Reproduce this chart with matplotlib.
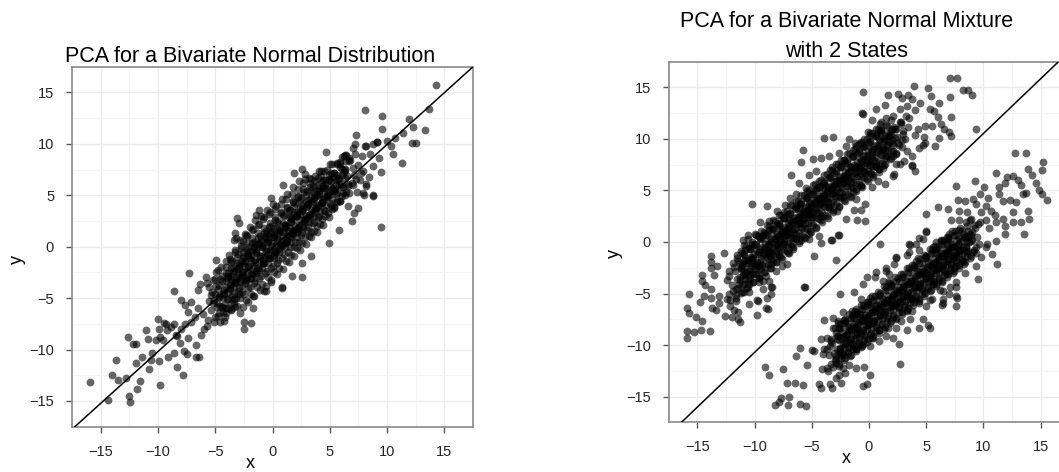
import matplotlib.pyplot as plt
import matplotlib as mpl
from matplotlib.ticker import MultipleLocator

mpl.rcParams['font.family'] = ['Liberation Sans', 'DejaVu Sans']

# ---- single bivariate normal: sparse tails and dense core (x, y) ----
left_tail = [
    (-15.9, -13.2), (-14.4, -14.9), (-14.0, -12.5), (-13.5, -13.0), (-13.7, -11.0), (-12.8, -12.8),
    (-12.5, -14.5), (-12.4, -15.1), (-11.8, -13.8), (-11.6, -13.1), (-12.6, -8.8), (-12.2, -9.5),
    (-11.9, -9.5), (-11.9, -11.3), (-11.4, -10.7), (-11.0, -8.1), (-10.9, -9.0), (-10.8, -11.9),
    (-10.5, -10.3), (-10.6, -11.0), (-10.2, -9.1), (-9.8, -13.4), (-9.9, -11.1), (-10.0, -7.0),
    (-9.9, -8.0), (-9.5, -7.4), (-9.6, -9.1), (-9.1, -10.7), (-8.6, -10.3), (-8.3, -11.7),
    (-8.4, -8.6), (-8.6, -4.3), (-8.1, -9.4), (-8.0, -5.2), (-7.8, -12.5), (-7.7, -10.1),
    (-7.5, -10.4), (-7.4, -6.3), (-7.3, -2.6), (-7.6, -7.5), (-6.7, -9.6), (-6.7, -10.7),
    (-6.4, -10.7), (-7.6, -5.7), (-7.1, -5.4), (-6.5, -4.2), (-6.3, -3.6), (-5.8, -2.9),
    (-6.0, -8.0), (-6.2, -8.6), (-5.7, -7.7), (-7.1, -7.3), (-6.8, -6.8), (-6.5, -6.0),
    (-6.1, -6.5), (-8.0, -8.0), (-8.6, -7.5), (-9.3, -7.5), (-7.4, -8.9), (-8.3, -8.7),
    (-9.8, -8.8), (-9.2, -8.1), (-8.9, -7.8), (-5.1, -7.3), (-4.8, -6.7), (-4.2, -7.2),
    (-5.1, -5.2), (-5.4, -4.7), (-5.5, -3.9), (-5.2, -3.2), (-4.8, -2.3), (-4.9, -1.3),
    (-4.4, -5.9), (-3.6, -6.2), (-3.3, -5.9), (-2.8, -6.4), (-2.5, -7.3), (-2.5, -8.0),
    (-1.9, -7.4), (-1.7, -6.0), (-1.7, -4.8), (-0.7, -4.3), (0.8, -4.0), (1.7, -2.8),
    (2.6, -2.9), (2.6, -1.6), (3.4, -0.9), (4.9, 0.4), (5.8, 1.6), (9.5, 1.9),
    (4.7, 9.2), (1.9, 7.2), (2.6, 7.6), (0.9, 6.0), (-0.1, 4.7), (-1.2, 3.6),
    (-1.4, 3.1), (-3.1, 2.8), (-2.9, 2.3), (-3.3, 1.3), (-3.4, 0.7), (0.8, -3.9),
    (-0.6, -4.3), (-0.1, -3.4), (6.9, 2.5), (7.5, 3.8), (8.8, 5.0), (8.0, 5.0),
    (8.2, 5.9), (7.1, 3.3), (6.6, 4.0), (5.9, 8.2), (5.2, 8.0), (7.2, 10.0),
    (8.2, 9.8), (9.1, 10.2), (6.3, 8.9), (4.1, 7.4), (3.4, 6.6), (2.8, 6.6),
    (4.3, 6.3), (5.3, 6.8), (6.6, 6.1), (7.3, 6.6), (7.7, 7.2), (14.3, 15.7),
    (8.1, 13.3), (9.6, 12.7), (11.9, 12.4), (13.7, 13.4), (9.6, 11.4), (12.3, 11.6),
    (13.3, 11.3), (11.4, 11.1), (12.2, 10.1), (12.5, 10.1), (7.3, 10.9), (10.7, 10.6),
    (10.0, 10.3), (10.3, 9.8), (10.5, 9.0), (11.3, 8.1), (9.5, 7.3), (8.8, 10.0),
    (9.1, 10.2), (8.1, 9.8), (7.0, 9.6), (8.5, 9.0), (7.8, 8.8), (9.3, 8.6),
    (8.8, 7.8), (8.4, 6.8), (8.8, 4.9), (6.2, 8.8), (6.7, 8.6), (5.6, 8.1),
    (6.3, 7.6), (7.5, 7.9), (7.9, 7.4), (7.6, 6.5), (8.2, 6.1), (7.0, 6.0),
    (7.9, 5.2), (6.7, 5.2), (7.4, 5.3),
]

left_core = [
    (-5.6, -7.1), (-5.35, -6.2), (-5.5, -5.3), (-5.25, -4.4), (-5.75, -3.5),
    (-5.0, -6.8), (-4.85, -5.9), (-5.2, -5.5), (-5.05, -4.6), (-4.75, -4.15), (-5.0, -3.1), (-4.9, -2.5),
    (-4.6, -7.3), (-4.35, -6.3), (-4.55, -5.75), (-4.7, -4.9), (-4.3, -4.5), (-4.65, -3.7), (-4.4, -2.85), (-4.5, -1.95), (-4.15, -6.85),
    (-4.1, -6.45), (-3.85, -5.95), (-4.0, -5.1), (-4.25, -4.55), (-3.75, -4.05), (-4.1, -3.35), (-3.9, -2.55), (-4.05, -1.4), (-3.8, -0.85), (-4.2, -5.7),
    (-3.6, -6.05), (-3.35, -5.45), (-3.5, -4.75), (-3.75, -4.15), (-3.3, -3.4), (-3.6, -2.85), (-3.45, -2.05), (-3.5, -1.35), (-3.3, -0.35), (-3.65, -3.15), (-3.4, -5.05),
    (-3.1, -5.75), (-2.85, -4.95), (-3.05, -4.3), (-3.25, -3.55), (-2.8, -3.05), (-3.1, -2.2), (-2.9, -1.65), (-3.0, -0.75), (-2.75, 0.1), (-3.2, 0.85), (-3.0, -2.65), (-2.95, -4.6),
    (-2.6, -5.9), (-2.35, -5.15), (-2.5, -4.55), (-2.7, -3.75), (-2.3, -3.25), (-2.65, -2.45), (-2.4, -1.85), (-2.5, -0.95), (-2.25, -0.3), (-2.6, 0.55), (-2.4, 1.25), (-2.45, -2.95), (-2.7, -1.35),
    (-2.1, -5.35), (-1.9, -4.55), (-2.0, -3.95), (-2.2, -3.25), (-1.8, -2.65), (-2.15, -1.85), (-1.9, -1.25), (-2.0, -0.45), (-1.75, 0.35), (-2.2, 1.05), (-2.0, 1.95), (-1.85, -3.0), (-2.1, -0.9),
    (-1.6, -4.75), (-1.35, -3.95), (-1.5, -3.35), (-1.7, -2.65), (-1.3, -2.05), (-1.6, -1.25), (-1.4, -0.65), (-1.55, 0.25), (-1.25, 0.85), (-1.7, 1.75), (-1.5, 2.55), (-1.4, -2.35), (-1.65, -0.05),
    (-1.1, -4.25), (-0.9, -3.65), (-1.0, -2.85), (-1.2, -2.25), (-0.8, -1.55), (-1.1, -0.95), (-0.9, -0.05), (-1.0, 0.65), (-0.75, 1.35), (-1.2, 2.25), (-1.0, 2.95), (-0.85, -1.2), (-1.15, 0.3),
    (-0.6, -3.85), (-0.4, -2.95), (-0.5, -2.35), (-0.7, -1.55), (-0.3, -1.05), (-0.6, -0.25), (-0.35, 0.45), (-0.5, 1.25), (-0.3, 1.95), (-0.7, 2.85), (-0.5, 3.55), (-0.4, -0.7), (-0.65, 0.95),
    (-0.1, -3.25), (0.15, -2.45), (0.0, -1.85), (-0.2, -1.05), (0.2, -0.45), (-0.1, 0.35), (0.1, 0.95), (0.0, 1.85), (0.25, 2.55), (-0.2, 3.35), (0.05, 4.15), (0.1, -0.8), (-0.15, 1.4),
    (0.4, -2.65), (0.6, -2.05), (0.5, -1.25), (0.3, -0.65), (0.7, 0.15), (0.4, 0.75), (0.65, 1.65), (0.5, 2.35), (0.75, 3.25), (0.3, 3.95), (0.6, -0.2), (0.4, 1.2),
    (0.9, -2.15), (1.15, -1.35), (1.0, -0.75), (0.8, 0.05), (1.2, 0.65), (0.9, 1.45), (1.1, 2.15), (1.0, 3.05), (1.25, 3.75), (0.8, 4.6), (1.05, 0.4), (1.1, 1.8),
    (1.4, -1.45), (1.6, -0.85), (1.5, -0.05), (1.3, 0.55), (1.7, 1.35), (1.4, 1.95), (1.65, 2.85), (1.5, 3.55), (1.75, 4.45), (1.3, 5.15), (1.55, 1.0), (1.6, 2.4),
    (1.9, -0.95), (2.15, -0.15), (2.0, 0.45), (1.8, 1.25), (2.2, 1.85), (1.9, 2.65), (2.1, 3.35), (2.0, 4.25), (2.25, 4.95), (1.8, 5.85), (2.0, 1.6), (2.1, 3.0),
    (2.4, -0.35), (2.6, 0.35), (2.5, 1.15), (2.3, 1.75), (2.75, 2.55), (2.4, 3.15), (2.6, 4.05), (2.5, 4.75), (2.7, 5.65), (2.3, 6.35), (2.55, 2.1), (2.6, 3.6),
    (2.9, 0.25), (3.15, 1.05), (3.0, 1.65), (2.8, 2.45), (3.2, 3.05), (2.9, 3.85), (3.1, 4.55), (3.0, 5.45), (3.25, 6.15), (2.8, 7.05), (3.0, 2.8), (3.1, 4.2),
    (3.4, 0.95), (3.6, 1.55), (3.5, 2.35), (3.3, 2.95), (3.7, 3.75), (3.4, 4.35), (3.65, 5.25), (3.5, 5.95), (3.75, 6.85), (3.5, 3.4), (3.6, 4.8),
    (3.9, 1.45), (4.15, 2.25), (4.0, 2.85), (3.8, 3.65), (4.2, 4.25), (3.9, 5.05), (4.1, 5.75), (4.0, 6.65), (4.25, 7.35), (4.0, 4.0), (4.1, 5.4),
    (4.4, 2.15), (4.6, 2.95), (4.5, 3.55), (4.3, 4.35), (4.75, 4.95), (4.4, 5.75), (4.6, 6.45), (4.5, 7.35), (4.5, 4.7), (4.6, 6.1),
    (4.9, 2.85), (5.15, 3.65), (5.0, 4.25), (4.8, 5.05), (5.2, 5.65), (4.9, 6.45), (5.1, 7.15), (5.0, 8.05), (5.0, 5.4),
    (5.4, 3.75), (5.6, 4.35), (5.5, 5.15), (5.3, 5.75), (5.7, 6.55), (5.4, 7.15), (5.6, 8.05), (5.5, 6.0),
    (5.9, 4.45), (6.15, 5.25), (6.0, 5.85), (5.8, 6.65), (6.2, 7.25), (5.9, 8.05), (6.1, 8.75),
    (6.4, 5.35), (6.6, 5.95), (6.5, 6.85), (6.3, 7.45), (6.7, 8.35), (6.4, 8.95),
    (6.9, 6.15), (7.1, 6.95), (7.0, 7.65), (6.8, 8.45), (7.2, 9.05),
]

# inner part of the core, where the cloud is densest
left_core_inner = [
    (-4.65, -6.4), (-4.85, -5.45), (-4.7, -4.75), (-4.9, -3.85), (-4.6, -3.15),
    (-4.15, -5.95), (-4.35, -4.95), (-4.2, -4.25), (-4.4, -3.35), (-4.1, -2.55),
    (-3.65, -5.45), (-3.85, -4.45), (-3.7, -3.75), (-3.9, -2.85), (-3.6, -2.05), (-3.75, -1.15),
    (-3.15, -4.95), (-3.35, -3.95), (-3.2, -3.25), (-3.4, -2.35), (-3.1, -1.55), (-3.25, -0.55),
    (-2.65, -4.45), (-2.85, -3.45), (-2.7, -2.75), (-2.9, -1.85), (-2.6, -1.05), (-2.75, -0.15), (-2.8, 0.65),
    (-2.15, -4.05), (-2.35, -3.05), (-2.2, -2.35), (-2.4, -1.35), (-2.1, -0.65), (-2.25, 0.35), (-2.3, 1.15),
    (-1.65, -3.55), (-1.85, -2.55), (-1.7, -1.85), (-1.9, -0.85), (-1.6, -0.15), (-1.75, 0.85), (-1.8, 1.65),
    (-1.15, -3.05), (-1.35, -2.05), (-1.2, -1.35), (-1.4, -0.35), (-1.1, 0.35), (-1.25, 1.35), (-1.3, 2.15),
    (-0.65, -2.55), (-0.85, -1.55), (-0.7, -0.85), (-0.9, 0.15), (-0.6, 0.85), (-0.75, 1.85), (-0.8, 2.65),
    (-0.15, -2.05), (-0.35, -1.05), (-0.2, -0.35), (-0.4, 0.65), (-0.1, 1.35), (-0.25, 2.35), (-0.3, 3.15),
    (0.35, -1.55), (0.15, -0.55), (0.3, 0.15), (0.1, 1.15), (0.4, 1.85), (0.25, 2.85), (0.2, 3.65),
    (0.85, -1.05), (0.65, -0.05), (0.8, 0.65), (0.6, 1.65), (0.9, 2.35), (0.75, 3.35), (0.7, 4.15),
    (1.35, -0.55), (1.15, 0.45), (1.3, 1.15), (1.1, 2.15), (1.4, 2.85), (1.25, 3.85), (1.2, 4.65),
    (1.85, -0.05), (1.65, 0.95), (1.8, 1.65), (1.6, 2.65), (1.9, 3.35), (1.75, 4.35), (1.7, 5.15),
    (2.35, 0.45), (2.15, 1.45), (2.3, 2.15), (2.1, 3.15), (2.4, 3.85), (2.25, 4.85), (2.2, 5.65),
    (2.85, 0.95), (2.65, 1.95), (2.8, 2.65), (2.6, 3.65), (2.9, 4.35), (2.75, 5.35), (2.7, 6.15),
    (3.35, 1.45), (3.15, 2.45), (3.3, 3.15), (3.1, 4.15), (3.4, 4.85), (3.25, 5.85), (3.2, 6.65),
    (3.85, 2.05), (3.65, 2.95), (3.8, 3.75), (3.6, 4.65), (3.9, 5.45), (3.75, 6.35),
    (4.35, 2.65), (4.15, 3.45), (4.3, 4.25), (4.1, 5.15), (4.4, 5.95), (4.25, 6.85),
    (4.85, 3.25), (4.65, 4.05), (4.8, 4.85), (4.6, 5.75), (4.9, 6.55), (4.75, 7.45),
    (5.35, 3.85), (5.15, 4.65), (5.3, 5.45), (5.1, 6.35), (5.4, 7.15),
    (5.85, 4.45), (5.65, 5.25), (5.8, 6.05), (5.6, 6.95), (5.9, 7.75),
    (6.35, 5.05), (6.15, 5.85), (6.3, 6.65), (6.1, 7.55), (6.4, 8.35),
]

left_core_centre = [
    (-3.9, -5.1), (-4.05, -3.9), (-3.95, -3.05), (-4.1, -2.0),
    (-3.4, -4.55), (-3.55, -3.45), (-3.45, -2.55), (-3.6, -1.5),
    (-2.9, -4.05), (-3.05, -2.95), (-2.95, -2.05), (-3.1, -1.0),
    (-2.4, -3.55), (-2.55, -2.45), (-2.45, -1.55), (-2.6, -0.5),
    (-1.9, -3.05), (-2.05, -1.95), (-1.95, -1.05), (-2.1, 0.0),
    (-1.4, -2.55), (-1.55, -1.45), (-1.45, -0.55), (-1.6, 0.5),
    (-0.9, -2.05), (-1.05, -0.95), (-0.95, -0.05), (-1.1, 1.0),
    (-0.4, -1.55), (-0.55, -0.45), (-0.45, 0.45), (-0.6, 1.5),
    (0.1, -1.05), (-0.05, 0.05), (0.05, 0.95), (-0.1, 2.0),
    (0.6, -0.55), (0.45, 0.55), (0.55, 1.45), (0.4, 2.5),
    (1.1, -0.05), (0.95, 1.05), (1.05, 1.95), (0.9, 3.0),
    (1.6, 0.45), (1.45, 1.55), (1.55, 2.45), (1.4, 3.5),
    (2.1, 0.95), (1.95, 2.05), (2.05, 2.95), (1.9, 4.0),
    (2.6, 1.45), (2.45, 2.55), (2.55, 3.45), (2.4, 4.5),
    (3.1, 1.95), (2.95, 3.05), (3.05, 3.95), (2.9, 5.0),
    (3.6, 2.45), (3.45, 3.55), (3.55, 4.45), (3.4, 5.5),
    (4.1, 2.95), (3.95, 4.05), (4.05, 4.95), (3.9, 6.0),
    (4.6, 3.45), (4.45, 4.55), (4.55, 5.45), (4.4, 6.5),
    (5.1, 3.95), (4.95, 5.05), (5.05, 5.95), (4.9, 7.0),
    (5.6, 4.45), (5.45, 5.55), (5.55, 6.45),
    (6.1, 4.95), (5.95, 6.05), (6.05, 6.95),
]

# ---- two-state mixture: upper component ----
right_upper_tail = [
    (-0.5, 14.6), (-0.6, 12.5), (-0.1, 10.7), (-3.1, 10.2), (-5.8, 8.9), (-5.9, 7.8),
    (-4.9, 8.1), (-4.2, 8.2), (-6.8, 6.5), (-10.2, 3.7), (-8.9, 3.5), (-9.5, 1.9),
    (-8.0, 3.0), (-7.3, 3.6), (-6.9, 4.3), (-1.3, 3.1), (-0.7, 3.1), (-0.3, 3.7),
    (-1.0, 2.1), (-0.3, 2.0), (-2.0, 2.2), (-2.7, 0.7), (-3.3, 0.2), (-4.2, -0.1),
    (-11.0, 0.2), (-10.6, 0.7), (-3.9, 10.1), (-1.7, 10.0), (-1.2, 9.6), (-0.7, 9.7),
    (-3.5, 8.3), (-2.6, 8.6), (-3.2, 7.3), (-2.2, 8.0), (-1.6, 7.3), (-0.9, 7.3),
    (-0.3, 6.7), (-0.7, 5.4), (-1.4, 4.9), (-1.1, 4.2), (-2.3, 4.4), (-4.6, 6.9),
    (-5.2, 6.5), (-6.1, 5.7), (-5.5, 5.2), (-6.4, 4.7), (-4.6, 5.0), (-3.8, 5.4),
    (-2.9, 5.9), (-4.4, 4.3), (-5.2, 3.8), (-6.1, 3.3), (-3.5, 3.4), (-2.8, 3.0),
    (-4.2, 2.5), (-5.2, 2.5), (-6.0, 1.8), (-7.0, 2.1), (-7.9, 1.6), (-8.7, 2.0),
    (-8.7, 1.2), (-9.3, 0.7), (-10.0, 0.8), (-7.3, 0.7), (-6.4, 0.4), (-5.2, 0.8),
    (-4.4, 0.6), (-1.1, 9.3), (-2.0, 9.3), (-0.5, 12.4),
    (1.7, 14.3), (2.5, 14.4), (3.9, 15.1), (3.4, 14.3), (5.2, 14.9), (5.4, 14.2),
    (6.1, 13.5), (7.1, 15.9), (7.7, 15.9), (7.1, 14.1), (8.2, 14.8), (8.7, 14.8),
    (9.0, 14.3), (9.4, 11.0), (7.2, 12.1), (7.0, 10.7), (7.2, 10.3), (6.1, 10.1),
    (4.8, 10.2), (4.0, 10.4), (5.3, 12.9), (5.7, 12.7), (6.0, 12.1), (4.9, 11.3),
    (4.3, 11.0), (3.3, 13.2), (2.7, 12.9), (2.1, 12.2), (0.6, 12.9), (0.3, 11.8),
    (0.1, 10.4), (1.1, 10.9), (1.8, 10.3), (2.5, 9.6), (3.3, 8.8), (3.8, 8.3),
    (3.8, 7.5), (4.0, 6.9), (4.9, 9.6), (2.1, 8.3), (1.2, 9.0), (0.3, 8.3),
    (1.2, 7.2), (2.1, 6.4), (0.8, 5.9), (0.3, 5.3), (1.0, 11.5), (1.5, 12.0),
    (2.0, 11.0), (2.8, 11.6), (3.0, 10.5), (3.5, 12.0), (4.0, 12.8), (4.5, 13.5),
    (3.8, 13.9), (2.9, 14.0), (1.4, 13.3), (0.9, 10.0), (1.6, 9.4), (2.9, 9.9),
    (3.4, 11.2), (4.4, 9.1), (5.5, 11.3), (6.3, 11.5), (6.6, 11.0), (5.8, 9.3),
    (2.4, 7.6), (3.1, 7.9), (1.5, 8.2), (0.6, 7.4), (0.2, 6.6), (0.9, 6.8),
    (3.8, 7.4), (4.7, 9.4), (2.7, 7.6), (1.4, 5.6), (2.2, 6.6),
    (-13.8, -1.4), (-12.7, -1.1), (-13.8, -1.9), (-13.3, -2.3), (-13.8, -2.5), (-13.5, -3.2),
    (-14.6, -3.2), (-14.6, -3.8), (-14.3, -4.2), (-13.8, -4.6), (-15.7, -5.0), (-14.4, -5.2),
    (-14.8, -5.8), (-15.9, -6.4), (-15.7, -6.9), (-15.1, -7.3), (-14.6, -7.7), (-15.9, -8.6),
    (-15.3, -8.7), (-14.7, -8.5), (-13.9, -8.6), (-15.9, -9.3), (-13.8, -5.4), (-13.7, -6.4),
    (-13.4, -6.6), (-13.1, -5.2), (-12.4, -5.5), (-12.2, -5.0), (-12.1, -6.2), (-11.6, -5.4),
    (-11.8, -6.6), (-11.4, -6.8), (-12.6, -7.2), (-12.0, -7.3), (-11.4, -7.5), (-11.3, -7.8),
    (-10.5, -6.0), (-9.8, -5.6), (-9.0, -6.4), (-9.8, -7.1), (-8.9, -5.4), (-8.6, -5.0),
    (-8.6, -4.4), (-8.7, -3.8), (-10.5, -4.9), (-10.9, -4.9), (-10.5, -4.1), (-11.6, -4.6),
    (-11.3, -3.7), (-12.4, -3.7), (-12.2, -2.8), (-11.9, -2.0), (-11.5, -1.6), (-11.2, -2.6),
    (-10.8, -3.1), (-10.2, -3.0), (-9.6, -3.9), (-9.3, -4.6), (-9.6, -3.3), (-9.0, -3.3),
    (-9.3, -3.8), (-8.1, -2.8), (-7.6, -2.3), (-8.6, -2.1), (-7.9, -1.3), (-7.0, -1.1),
    (-8.7, -1.0), (-10.3, -1.6), (-10.9, -1.8), (-10.8, -0.8), (-10.2, -0.3), (-9.5, 0.5),
    (-8.7, -0.2), (-8.0, -0.2), (-7.4, 0.0), (-6.7, -0.2), (-5.9, 0.2), (-5.2, 0.3),
    (-4.8, -1.4), (-5.7, -4.4), (-11.6, -5.7), (-13.1, -5.9), (-2.9, -1.7), (-3.2, 0.2),
    (-2.6, 0.7), (-8.5, -4.4), (-9.7, -5.7), (-8.8, -6.5), (-5.6, -4.4), (-7.2, -2.1),
]

right_upper_core = [
    (-12.1, -5.6), (-11.85, -4.75), (-12.0, -4.15), (-12.25, -3.3), (-11.8, -2.45),
    (-11.6, -5.15), (-11.4, -4.45), (-11.5, -3.55), (-11.7, -2.85), (-11.3, -2.05), (-11.55, -1.25),
    (-11.1, -4.85), (-10.9, -4.05), (-11.0, -3.25), (-11.2, -2.55), (-10.8, -1.75), (-11.05, -1.05), (-10.9, -0.25),
    (-10.6, -4.35), (-10.4, -3.55), (-10.5, -2.85), (-10.7, -2.05), (-10.3, -1.45), (-10.5, -0.55), (-10.6, 0.25),
    (-10.1, -3.85), (-9.85, -3.15), (-10.0, -2.35), (-10.2, -1.65), (-9.8, -0.85), (-10.05, -0.15), (-9.9, 0.65), (-10.15, -2.0),
    (-9.6, -3.45), (-9.4, -2.65), (-9.55, -1.95), (-9.7, -1.15), (-9.3, -0.45), (-9.5, 0.35), (-9.4, 1.05), (-9.65, -2.25),
    (-9.1, -2.95), (-8.85, -2.25), (-9.0, -1.45), (-9.2, -0.75), (-8.8, 0.05), (-9.05, 0.75), (-8.9, 1.65), (-9.15, -1.1),
    (-8.6, -2.55), (-8.4, -1.85), (-8.55, -0.95), (-8.7, -0.35), (-8.3, 0.55), (-8.5, 1.25), (-8.4, 2.15), (-8.65, -1.4),
    (-8.1, -1.95), (-7.85, -1.35), (-8.0, -0.45), (-8.2, 0.25), (-7.8, 1.05), (-8.05, 1.75), (-7.9, 2.65), (-8.15, -0.9), (-7.95, 0.6),
    (-7.6, -1.65), (-7.4, -0.75), (-7.55, -0.15), (-7.7, 0.75), (-7.3, 1.45), (-7.5, 2.35), (-7.4, 2.95), (-7.65, 0.3), (-7.35, 1.1),
    (-7.1, -1.05), (-6.85, -0.35), (-7.0, 0.45), (-7.2, 1.15), (-6.8, 2.05), (-7.05, 2.75), (-6.9, 3.55), (-7.15, 0.8), (-6.95, 1.6),
    (-6.6, -0.65), (-6.4, 0.25), (-6.55, 0.85), (-6.7, 1.75), (-6.3, 2.45), (-6.5, 3.25), (-6.4, 3.95), (-6.65, 1.3), (-6.35, 2.1),
    (-6.1, -0.05), (-5.85, 0.65), (-6.0, 1.45), (-6.2, 2.15), (-5.8, 3.05), (-6.05, 3.65), (-5.9, 4.55), (-6.15, 1.8), (-5.95, 2.6),
    (-5.6, 0.35), (-5.4, 1.25), (-5.55, 1.85), (-5.7, 2.75), (-5.3, 3.45), (-5.5, 4.25), (-5.4, 4.95), (-5.65, 2.3), (-5.35, 3.1),
    (-5.1, 0.95), (-4.85, 1.65), (-5.0, 2.45), (-5.2, 3.15), (-4.8, 4.05), (-5.05, 4.65), (-4.9, 5.55), (-5.15, 2.8), (-4.95, 3.6),
    (-4.6, 1.35), (-4.4, 2.25), (-4.55, 2.85), (-4.7, 3.75), (-4.3, 4.45), (-4.5, 5.25), (-4.4, 5.95), (-4.65, 3.3), (-4.35, 4.1),
    (-4.1, 1.95), (-3.85, 2.65), (-4.0, 3.45), (-4.2, 4.15), (-3.8, 5.05), (-4.05, 5.65), (-3.9, 6.55), (-4.15, 3.8), (-3.95, 4.6),
    (-3.6, 2.35), (-3.4, 3.25), (-3.55, 3.85), (-3.7, 4.75), (-3.3, 5.45), (-3.5, 6.25), (-3.4, 6.95), (-3.65, 4.3), (-3.35, 5.1),
    (-3.1, 2.95), (-2.85, 3.65), (-3.0, 4.45), (-3.2, 5.15), (-2.8, 6.05), (-3.05, 6.65), (-2.9, 7.55), (-3.15, 4.8), (-2.95, 5.6),
    (-2.6, 3.35), (-2.4, 4.25), (-2.55, 4.85), (-2.7, 5.75), (-2.3, 6.45), (-2.5, 7.25), (-2.4, 7.95), (-2.65, 5.3), (-2.35, 6.1),
    (-2.1, 3.95), (-1.85, 4.65), (-2.0, 5.45), (-2.2, 6.15), (-1.8, 7.05), (-2.05, 7.65), (-1.9, 8.55), (-2.15, 5.8), (-1.95, 6.6),
    (-1.6, 4.35), (-1.4, 5.25), (-1.55, 5.85), (-1.7, 6.75), (-1.3, 7.45), (-1.5, 8.25), (-1.4, 8.95), (-1.65, 6.3),
    (-1.1, 4.95), (-0.85, 5.65), (-1.0, 6.45), (-1.2, 7.15), (-0.8, 8.05), (-1.05, 8.65), (-0.9, 9.55), (-1.15, 6.8),
    (-0.6, 5.35), (-0.4, 6.25), (-0.55, 6.85), (-0.7, 7.75), (-0.3, 8.45), (-0.5, 9.25), (-0.4, 9.95), (-0.65, 7.3),
    (-0.1, 5.95), (0.15, 6.65), (0.0, 7.45), (-0.2, 8.15), (0.2, 9.05), (-0.05, 9.65), (0.1, 10.55), (-0.15, 7.8),
    (0.4, 6.35), (0.6, 7.25), (0.45, 7.85), (0.3, 8.75), (0.7, 9.45), (0.5, 10.25), (0.6, 10.95),
    (0.9, 7.05), (1.15, 7.65), (1.0, 8.55), (0.8, 9.15), (1.2, 10.05), (0.95, 10.75), (1.1, 11.65),
    (1.4, 7.55), (1.6, 8.35), (1.45, 8.95), (1.3, 9.85), (1.7, 10.55), (1.5, 11.35),
    (1.9, 8.15), (2.15, 8.85), (2.0, 9.65), (1.8, 10.35), (2.2, 11.15), (1.95, 11.85),
    (2.4, 8.65), (2.6, 9.45), (2.45, 10.15), (2.3, 10.95), (2.7, 11.65),
    (2.9, 9.25), (3.15, 9.95), (3.0, 10.75), (2.8, 11.45), (3.2, 12.25),
]

right_upper_inner = [
    (-11.15, -4.95), (-11.35, -4.1), (-11.25, -3.4), (-11.1, -2.5), (-11.4, -1.8), (-11.2, -0.9),
    (-10.65, -4.5), (-10.85, -3.6), (-10.75, -2.9), (-10.6, -2.0), (-10.9, -1.3), (-10.7, -0.4),
    (-10.15, -3.9), (-10.35, -3.2), (-10.25, -2.3), (-10.1, -1.6), (-10.4, -0.7), (-10.2, 0.0),
    (-9.65, -3.5), (-9.85, -2.6), (-9.75, -1.9), (-9.6, -1.0), (-9.9, -0.3), (-9.7, 0.6),
    (-9.15, -2.9), (-9.35, -2.2), (-9.25, -1.3), (-9.1, -0.6), (-9.4, 0.3), (-9.2, 1.0),
    (-8.65, -2.5), (-8.85, -1.6), (-8.75, -0.9), (-8.6, 0.0), (-8.9, 0.7), (-8.7, 1.6),
    (-8.15, -1.9), (-8.35, -1.2), (-8.25, -0.3), (-8.1, 0.4), (-8.4, 1.3), (-8.2, 2.0),
    (-7.65, -1.5), (-7.85, -0.6), (-7.75, 0.1), (-7.6, 1.0), (-7.9, 1.7), (-7.7, 2.6),
    (-7.15, -0.9), (-7.35, -0.2), (-7.25, 0.7), (-7.1, 1.4), (-7.4, 2.3), (-7.2, 3.0),
    (-6.65, -0.5), (-6.85, 0.4), (-6.75, 1.1), (-6.6, 2.0), (-6.9, 2.7), (-6.7, 3.6),
    (-6.15, 0.1), (-6.35, 0.8), (-6.25, 1.7), (-6.1, 2.4), (-6.4, 3.3), (-6.2, 4.0),
    (-5.65, 0.5), (-5.85, 1.4), (-5.75, 2.1), (-5.6, 3.0), (-5.9, 3.7), (-5.7, 4.6),
    (-5.15, 1.1), (-5.35, 1.8), (-5.25, 2.7), (-5.1, 3.4), (-5.4, 4.3), (-5.2, 5.0),
    (-4.65, 1.5), (-4.85, 2.4), (-4.75, 3.1), (-4.6, 4.0), (-4.9, 4.7), (-4.7, 5.6),
    (-4.15, 2.1), (-4.35, 2.8), (-4.25, 3.7), (-4.1, 4.4), (-4.4, 5.3), (-4.2, 6.0),
    (-3.65, 2.5), (-3.85, 3.4), (-3.75, 4.1), (-3.6, 5.0), (-3.9, 5.7), (-3.7, 6.6),
    (-3.15, 3.1), (-3.35, 3.8), (-3.25, 4.7), (-3.1, 5.4), (-3.4, 6.3), (-3.2, 7.0),
    (-2.65, 3.5), (-2.85, 4.4), (-2.75, 5.1), (-2.6, 6.0), (-2.9, 6.7), (-2.7, 7.6),
    (-2.15, 4.1), (-2.35, 4.8), (-2.25, 5.7), (-2.1, 6.4), (-2.4, 7.3), (-2.2, 8.0),
    (-1.65, 4.5), (-1.85, 5.4), (-1.75, 6.1), (-1.6, 7.0), (-1.9, 7.7), (-1.7, 8.6),
    (-1.15, 5.1), (-1.35, 5.8), (-1.25, 6.7), (-1.1, 7.4), (-1.4, 8.3), (-1.2, 9.0),
    (-0.65, 5.5), (-0.85, 6.4), (-0.75, 7.1), (-0.6, 8.0), (-0.9, 8.7), (-0.7, 9.6),
    (-0.15, 6.1), (-0.35, 6.8), (-0.25, 7.7), (-0.1, 8.4), (-0.4, 9.3), (-0.2, 10.0),
    (0.35, 6.5), (0.15, 7.4), (0.25, 8.1), (0.4, 9.0), (0.1, 9.7), (0.3, 10.6),
    (0.85, 7.1), (0.65, 7.8), (0.75, 8.7), (0.9, 9.4), (0.6, 10.3), (0.8, 11.0),
    (1.35, 7.5), (1.15, 8.4), (1.25, 9.1), (1.4, 10.0), (1.1, 10.7),
    (1.85, 8.1), (1.65, 8.8), (1.75, 9.7), (1.9, 10.4), (1.6, 11.3),
    (2.35, 8.5), (2.15, 9.4), (2.25, 10.1), (2.4, 11.0),
]

right_upper_centre = [
    (-11.1, -4.15), (-10.95, -3.1), (-11.05, -2.2), (-10.9, -1.15),
    (-10.6, -3.65), (-10.45, -2.6), (-10.55, -1.7), (-10.4, -0.65),
    (-10.1, -3.15), (-9.95, -2.1), (-10.05, -1.2), (-9.9, -0.15),
    (-9.6, -2.65), (-9.45, -1.6), (-9.55, -0.7), (-9.4, 0.35),
    (-9.1, -2.15), (-8.95, -1.1), (-9.05, -0.2), (-8.9, 0.85),
    (-8.6, -1.65), (-8.45, -0.6), (-8.55, 0.3), (-8.4, 1.35),
    (-8.1, -1.15), (-7.95, -0.1), (-8.05, 0.8), (-7.9, 1.85),
    (-7.6, -0.65), (-7.45, 0.4), (-7.55, 1.3), (-7.4, 2.35),
    (-7.1, -0.15), (-6.95, 0.9), (-7.05, 1.8), (-6.9, 2.85),
    (-6.6, 0.35), (-6.45, 1.4), (-6.55, 2.3), (-6.4, 3.35),
    (-6.1, 0.85), (-5.95, 1.9), (-6.05, 2.8), (-5.9, 3.85),
    (-5.6, 1.35), (-5.45, 2.4), (-5.55, 3.3), (-5.4, 4.35),
    (-5.1, 1.85), (-4.95, 2.9), (-5.05, 3.8), (-4.9, 4.85),
    (-4.6, 2.35), (-4.45, 3.4), (-4.55, 4.3), (-4.4, 5.35),
    (-4.1, 2.85), (-3.95, 3.9), (-4.05, 4.8), (-3.9, 5.85),
    (-3.6, 3.35), (-3.45, 4.4), (-3.55, 5.3), (-3.4, 6.35),
    (-3.1, 3.85), (-2.95, 4.9), (-3.05, 5.8), (-2.9, 6.85),
    (-2.6, 4.35), (-2.45, 5.4), (-2.55, 6.3), (-2.4, 7.35),
    (-2.1, 4.85), (-1.95, 5.9), (-2.05, 6.8), (-1.9, 7.85),
    (-1.6, 5.35), (-1.45, 6.4), (-1.55, 7.3), (-1.4, 8.35),
    (-1.1, 5.85), (-0.95, 6.9), (-1.05, 7.8), (-0.9, 8.85),
    (-0.6, 6.35), (-0.45, 7.4), (-0.55, 8.3), (-0.4, 9.35),
    (-0.1, 6.85), (0.05, 7.9), (-0.05, 8.8), (0.1, 9.85),
    (0.4, 7.35), (0.55, 8.4), (0.45, 9.3), (0.6, 10.35),
    (0.9, 7.85), (1.05, 8.9), (0.95, 9.8), (1.1, 10.85),
    (1.4, 8.35), (1.55, 9.4), (1.45, 10.3),
    (1.9, 8.85), (2.05, 9.9), (1.95, 10.8),
]

# ---- two-state mixture: lower component ----
right_lower_tail = [
    (1.0, -0.2), (-2.5, -5.0), (2.7, -11.8), (-3.9, -7.6), (-3.1, -7.4), (-2.3, -6.8),
    (-1.5, -6.7), (-7.5, -12.3), (-6.4, -11.1), (-6.0, -10.3), (-5.0, -10.5), (-4.8, -10.6),
    (-7.2, -13.7), (-6.5, -13.7), (-5.8, -13.9), (-7.7, -15.1), (-7.0, -15.0), (-7.1, -15.8),
    (-6.0, -15.7), (-5.5, -15.9), (-4.4, -13.8), (-4.2, -14.2), (-3.4, -13.8), (-3.2, -14.2),
    (-2.4, -13.7), (-2.9, -13.2), (-2.6, -12.9), (-2.1, -12.7), (-0.5, -14.0), (-0.2, -13.8),
    (0.1, -12.9), (-0.4, -12.1), (-1.1, -12.2), (-1.7, -11.9), (-2.3, -12.2), (-4.1, -12.3),
    (-3.7, -12.2), (-3.0, -11.5), (-4.0, -10.9), (-3.9, -10.4), (-3.4, -10.1), (-4.2, -9.4),
    (-3.7, -9.3), (-3.3, -9.6), (-2.7, -9.1), (-2.0, -9.0), (-1.1, -9.9), (-0.5, -9.9),
    (-1.7, -10.3), (-1.1, -10.4), (-2.3, -10.9), (-2.9, -11.7), (0.1, -10.1), (0.3, -9.3),
    (0.9, -9.6), (1.5, -9.1), (2.1, -9.3), (2.6, -9.9), (0.9, -8.5), (-0.1, -8.1),
    (-1.0, -8.3), (-1.7, -8.5), (-2.6, -8.3), (-3.1, -8.3), (-2.7, -7.7), (-2.1, -7.5),
    (-1.3, -7.4), (-0.8, -7.0), (3.3, -8.5), (2.4, -8.3), (1.7, -8.3), (2.8, -7.7),
    (3.6, -7.5), (4.4, -8.3), (5.2, -8.1), (4.7, -7.5), (3.8, -6.7), (3.3, -6.7),
    (2.1, -6.2), (1.2, -6.2), (0.5, -6.2), (-0.3, -6.2), (-1.1, -6.5), (-0.7, -5.5),
    (0.1, -5.4), (3.8, -5.5), (4.4, -5.9), (5.0, -6.2), (5.5, -5.5), (6.5, -5.5),
    (6.2, -4.7), (7.0, -5.0), (7.6, -5.2), (7.1, -4.4), (7.6, -3.9), (5.6, -4.1),
    (-0.5, -4.1), (-1.3, -4.9), (-0.2, -3.4), (0.6, -2.9), (1.5, -2.8), (2.2, -2.1),
    (2.4, -1.5), (3.3, -1.3), (3.6, -0.3), (4.1, -0.2), (4.7, 0.3), (5.0, 1.0),
    (5.9, 0.0), (6.8, -0.2), (7.3, -0.5), (7.9, -0.8), (5.9, -1.1), (7.2, -2.1),
    (7.6, -1.5), (6.6, -1.5), (4.4, -0.8), (1.8, -3.1), (0.5, -3.4), (1.2, -3.8),
    (-9.1, -12.1), (-8.7, -12.9), (-8.2, -15.8), (-7.9, -15.5), (-5.4, -11.9),
    (11.9, 0.8), (10.3, -0.2), (7.6, -6.2), (6.5, -5.9), (5.3, -8.3),
    (12.8, 8.6), (13.7, 8.6), (15.2, 7.8), (15.1, 7.0), (15.6, 4.1), (13.9, 7.1),
    (14.3, 6.5), (14.6, 5.7), (14.9, 5.0), (15.1, 4.7), (11.1, 6.7), (12.1, 6.3),
    (12.6, 6.4), (13.0, 6.0), (13.3, 5.5), (13.7, 4.8), (13.5, 4.7), (12.9, 3.9),
    (12.3, 4.1), (11.7, 4.0), (11.4, 4.7), (11.9, 5.7), (11.4, 5.3), (13.9, 3.0),
    (14.0, 2.2), (13.3, 1.9), (13.6, 0.8), (12.6, 1.9), (12.6, 2.9), (11.9, 1.6),
    (11.7, 2.2), (11.0, 2.6), (11.1, 1.9), (10.7, 3.0), (10.2, 3.5), (10.1, 5.3),
    (9.3, 5.9), (7.6, 5.4), (6.0, 3.4), (6.9, 3.2), (7.8, 4.1), (8.4, 4.0),
    (9.1, 4.2), (9.4, 3.7), (9.8, 2.9), (10.4, 4.3), (9.7, 4.7), (8.6, 2.9),
    (7.9, 3.0), (7.2, 2.1), (7.9, 2.1), (8.8, 2.1), (9.5, 1.7), (10.2, 2.1),
    (10.5, 1.4), (11.1, 0.1), (10.8, -1.2), (11.2, -2.1), (5.0, 2.7), (5.0, 1.1),
    (4.4, 0.4), (3.5, -0.2), (3.5, -1.0), (2.4, -1.6), (1.5, -2.5), (9.5, -3.6),
    (7.7, -5.4), (6.4, -6.1), (5.3, -5.6), (6.5, -4.8), (7.6, -4.4), (8.4, -3.0),
    (9.4, -2.3), (9.8, -1.5), (10.2, -0.5), (9.4, -0.5), (8.5, -0.9), (8.6, 0.1),
    (7.9, 0.4), (7.0, 0.8), (6.3, 0.1), (5.6, -0.5), (5.0, -1.4), (4.1, -1.8),
    (6.8, -0.9), (7.6, -1.2), (6.0, -1.8), (5.6, -2.5), (4.7, -3.1), (3.7, -3.8),
    (3.0, -4.4), (2.1, -5.1), (4.4, -4.4), (5.4, -3.8), (6.7, -3.1), (7.4, -2.5),
    (8.2, -1.8), (3.8, -5.4), (2.7, -5.7), (1.8, -3.8),
]

right_lower_core = [
    (-3.6, -12.55), (-3.35, -11.85), (-3.5, -10.95), (-3.7, -10.35), (-3.3, -9.45),
    (-3.1, -12.15), (-2.85, -11.35), (-3.05, -10.75), (-3.2, -9.85), (-2.8, -9.15), (-3.0, -8.35),
    (-2.6, -11.85), (-2.4, -10.95), (-2.5, -10.35), (-2.7, -9.45), (-2.3, -8.85), (-2.55, -7.95), (-2.65, -10.7),
    (-2.1, -11.25), (-1.85, -10.65), (-2.0, -9.75), (-2.2, -9.15), (-1.8, -8.25), (-2.05, -7.65), (-2.15, -10.2),
    (-1.6, -10.95), (-1.4, -10.05), (-1.55, -9.45), (-1.7, -8.55), (-1.3, -7.95), (-1.5, -7.05), (-1.65, -9.8), (-1.35, -8.2),
    (-1.1, -10.35), (-0.85, -9.75), (-1.0, -8.85), (-1.2, -8.25), (-0.8, -7.35), (-1.05, -6.75), (-1.15, -9.3), (-0.9, -7.8),
    (-0.6, -10.05), (-0.4, -9.15), (-0.55, -8.55), (-0.7, -7.65), (-0.3, -7.05), (-0.5, -6.15), (-0.65, -8.9), (-0.35, -7.3),
    (-0.1, -9.45), (0.15, -8.85), (0.0, -7.95), (-0.2, -7.35), (0.2, -6.45), (-0.05, -5.85), (-0.15, -8.4), (0.1, -6.9),
    (0.4, -9.15), (0.6, -8.25), (0.45, -7.65), (0.3, -6.75), (0.7, -6.15), (0.5, -5.25), (0.35, -7.9), (0.65, -6.5),
    (0.9, -8.55), (1.15, -7.95), (1.0, -7.05), (0.8, -6.45), (1.2, -5.55), (0.95, -4.95), (0.85, -7.5), (1.1, -6.0),
    (1.4, -8.25), (1.6, -7.35), (1.45, -6.75), (1.3, -5.85), (1.7, -5.25), (1.5, -4.35), (1.35, -7.0), (1.65, -5.6),
    (1.9, -7.65), (2.15, -7.05), (2.0, -6.15), (1.8, -5.55), (2.2, -4.65), (1.95, -4.05), (1.85, -6.6), (2.1, -5.1),
    (2.4, -7.35), (2.6, -6.45), (2.45, -5.85), (2.3, -4.95), (2.7, -4.35), (2.5, -3.45), (2.35, -6.1), (2.65, -4.7),
    (2.9, -6.75), (3.15, -6.15), (3.0, -5.25), (2.8, -4.65), (3.2, -3.75), (2.95, -3.15), (2.85, -5.7), (3.1, -4.2),
    (3.4, -6.45), (3.6, -5.55), (3.45, -4.95), (3.3, -4.05), (3.7, -3.45), (3.5, -2.55), (3.35, -5.2), (3.65, -3.8),
    (3.9, -5.85), (4.15, -5.25), (4.0, -4.35), (3.8, -3.75), (4.2, -2.85), (3.95, -2.25), (3.85, -4.8), (4.1, -3.3),
    (4.4, -5.55), (4.6, -4.65), (4.45, -4.05), (4.3, -3.15), (4.7, -2.55), (4.5, -1.65), (4.35, -4.3), (4.65, -2.9),
    (4.9, -4.95), (5.15, -4.35), (5.0, -3.45), (4.8, -2.85), (5.2, -1.95), (4.95, -1.35), (4.85, -3.9), (5.1, -2.4),
    (5.4, -4.65), (5.6, -3.75), (5.45, -3.15), (5.3, -2.25), (5.7, -1.65), (5.5, -0.75), (5.35, -3.4), (5.65, -2.0),
    (5.9, -4.05), (6.15, -3.45), (6.0, -2.55), (5.8, -1.95), (6.2, -1.05), (5.95, -0.45), (5.85, -3.0), (6.1, -1.5),
    (6.4, -3.75), (6.6, -2.85), (6.45, -2.25), (6.3, -1.35), (6.7, -0.75), (6.5, 0.15), (6.35, -2.5), (6.65, -1.1),
    (6.9, -3.15), (7.15, -2.55), (7.0, -1.65), (6.8, -1.05), (7.2, -0.15), (6.95, 0.45), (6.85, -2.1), (7.1, -0.6),
    (7.4, -2.85), (7.6, -1.95), (7.45, -1.35), (7.3, -0.45), (7.7, 0.15), (7.5, 1.05), (7.35, -1.6),
    (7.9, -2.25), (8.15, -1.65), (8.0, -0.75), (7.8, -0.15), (8.2, 0.75), (7.95, 1.35), (7.85, -1.2),
    (8.4, -1.95), (8.6, -1.05), (8.45, -0.45), (8.3, 0.45), (8.7, 1.05), (8.5, 1.95),
    (8.9, -1.35), (9.15, -0.75), (9.0, 0.15), (8.8, 0.75), (9.2, 1.65), (8.95, 2.25),
    (9.4, -1.05), (9.6, -0.15), (9.45, 0.45), (9.3, 1.35), (9.7, 1.95),
]

right_lower_inner = [
    (-2.65, -12.0), (-2.85, -11.1), (-2.75, -10.4), (-2.6, -9.5), (-2.9, -8.8), (-2.7, -7.9),
    (-2.15, -11.5), (-2.35, -10.8), (-2.25, -9.9), (-2.1, -9.2), (-2.4, -8.3), (-2.2, -7.6),
    (-1.65, -11.1), (-1.85, -10.2), (-1.75, -9.5), (-1.6, -8.6), (-1.9, -7.9), (-1.7, -7.0),
    (-1.15, -10.6), (-1.35, -9.9), (-1.25, -9.0), (-1.1, -8.3), (-1.4, -7.4), (-1.2, -6.7),
    (-0.65, -10.2), (-0.85, -9.3), (-0.75, -8.6), (-0.6, -7.7), (-0.9, -7.0), (-0.7, -6.1),
    (-0.15, -9.7), (-0.35, -9.0), (-0.25, -8.1), (-0.1, -7.4), (-0.4, -6.5), (-0.2, -5.8),
    (0.35, -9.3), (0.15, -8.4), (0.25, -7.7), (0.4, -6.8), (0.1, -6.1), (0.3, -5.2),
    (0.85, -8.8), (0.65, -8.1), (0.75, -7.2), (0.9, -6.5), (0.6, -5.6), (0.8, -4.9),
    (1.35, -8.4), (1.15, -7.5), (1.25, -6.8), (1.4, -5.9), (1.1, -5.2), (1.3, -4.3),
    (1.85, -7.9), (1.65, -7.2), (1.75, -6.3), (1.9, -5.6), (1.6, -4.7), (1.8, -4.0),
    (2.35, -7.5), (2.15, -6.6), (2.25, -5.9), (2.4, -5.0), (2.1, -4.3), (2.3, -3.4),
    (2.85, -7.0), (2.65, -6.3), (2.75, -5.4), (2.9, -4.7), (2.6, -3.8), (2.8, -3.1),
    (3.35, -6.6), (3.15, -5.7), (3.25, -5.0), (3.4, -4.1), (3.1, -3.4), (3.3, -2.5),
    (3.85, -6.1), (3.65, -5.4), (3.75, -4.5), (3.9, -3.8), (3.6, -2.9), (3.8, -2.2),
    (4.35, -5.7), (4.15, -4.8), (4.25, -4.1), (4.4, -3.2), (4.1, -2.5), (4.3, -1.6),
    (4.85, -5.2), (4.65, -4.5), (4.75, -3.6), (4.9, -2.9), (4.6, -2.0), (4.8, -1.3),
    (5.35, -4.8), (5.15, -3.9), (5.25, -3.2), (5.4, -2.3), (5.1, -1.6), (5.3, -0.7),
    (5.85, -4.3), (5.65, -3.6), (5.75, -2.7), (5.9, -2.0), (5.6, -1.1), (5.8, -0.4),
    (6.35, -3.9), (6.15, -3.0), (6.25, -2.3), (6.4, -1.4), (6.1, -0.7), (6.3, 0.2),
    (6.85, -3.4), (6.65, -2.7), (6.75, -1.8), (6.9, -1.1), (6.6, -0.2), (6.8, 0.5),
    (7.35, -3.0), (7.15, -2.1), (7.25, -1.4), (7.4, -0.5), (7.1, 0.2), (7.3, 1.1),
    (7.85, -2.5), (7.65, -1.8), (7.75, -0.9), (7.9, -0.2), (7.6, 0.7),
    (8.35, -2.1), (8.15, -1.2), (8.25, -0.5), (8.4, 0.4), (8.1, 1.1),
    (8.85, -1.6), (8.65, -0.9), (8.75, 0.0), (8.9, 0.7), (8.6, 1.6),
]

right_lower_centre = [
    (-2.4, -11.3), (-2.55, -10.25), (-2.45, -9.35), (-2.6, -8.3),
    (-1.9, -10.85), (-2.05, -9.8), (-1.95, -8.9), (-2.1, -7.85),
    (-1.4, -10.4), (-1.55, -9.35), (-1.45, -8.45), (-1.6, -7.4),
    (-0.9, -9.95), (-1.05, -8.9), (-0.95, -8.0), (-1.1, -6.95),
    (-0.4, -9.5), (-0.55, -8.45), (-0.45, -7.55), (-0.6, -6.5),
    (0.1, -9.05), (-0.05, -8.0), (0.05, -7.1), (-0.1, -6.05),
    (0.6, -8.6), (0.45, -7.55), (0.55, -6.65), (0.4, -5.6),
    (1.1, -8.15), (0.95, -7.1), (1.05, -6.2), (0.9, -5.15),
    (1.6, -7.7), (1.45, -6.65), (1.55, -5.75), (1.4, -4.7),
    (2.1, -7.25), (1.95, -6.2), (2.05, -5.3), (1.9, -4.25),
    (2.6, -6.8), (2.45, -5.75), (2.55, -4.85), (2.4, -3.8),
    (3.1, -6.35), (2.95, -5.3), (3.05, -4.4), (2.9, -3.35),
    (3.6, -5.9), (3.45, -4.85), (3.55, -3.95), (3.4, -2.9),
    (4.1, -5.45), (3.95, -4.4), (4.05, -3.5), (3.9, -2.45),
    (4.6, -5.0), (4.45, -3.95), (4.55, -3.05), (4.4, -2.0),
    (5.1, -4.55), (4.95, -3.5), (5.05, -2.6), (4.9, -1.55),
    (5.6, -4.1), (5.45, -3.05), (5.55, -2.15), (5.4, -1.1),
    (6.1, -3.65), (5.95, -2.6), (6.05, -1.7), (5.9, -0.65),
    (6.6, -3.2), (6.45, -2.15), (6.55, -1.25), (6.4, -0.2),
    (7.1, -2.75), (6.95, -1.7), (7.05, -0.8), (6.9, 0.25),
    (7.6, -2.3), (7.45, -1.25), (7.55, -0.35), (7.4, 0.7),
    (8.1, -1.85), (7.95, -0.8), (8.05, 0.1), (7.9, 1.15),
    (8.6, -1.4), (8.45, -0.35), (8.55, 0.55),
    (9.1, -0.95), (8.95, 0.1), (9.05, 1.0),
]

# first principal component lines (slope, intercept)
left_pc = (1.007, -0.13)
right_pc = (1.062, -0.10)

W, H = 1059, 472
fig = plt.figure(figsize=(W / 100, H / 100), dpi=100)

# panel rectangles from pixel edges
ax1 = fig.add_axes([72 / W, 1 - 426.7 / H, 401 / W, 360 / H])
ax2 = fig.add_axes([668.7 / W, 1 - 422.3 / H, 400.4 / W, 360.6 / H])


def style(ax):
    ax.set_xlim(-17.5, 17.5)
    ax.set_ylim(-17.5, 17.5)
    for axis in (ax.xaxis, ax.yaxis):
        axis.set_major_locator(MultipleLocator(5))
        axis.set_minor_locator(MultipleLocator(2.5))
    ax.grid(which='major', color='#ebebeb', lw=1.0)
    ax.grid(which='minor', color='#f4f4f4', lw=0.8)
    ax.set_axisbelow(True)
    for s in ax.spines.values():
        s.set_color('#8a8a8a')
        s.set_linewidth(1.2)
    ax.tick_params(which='major', length=4.3, width=1.0, color='#555555',
                   pad=8.6, labelsize=10.5, labelcolor='#262626')
    ax.tick_params(which='minor', length=0)


def scatter(ax, *groups):
    for g in groups:
        xs, ys = zip(*g)
        ax.scatter(xs, ys, s=32, c='black', alpha=0.6, linewidths=0, zorder=2)


style(ax1)
style(ax2)
scatter(ax1, left_tail, left_core, left_core_inner, left_core_centre)
scatter(ax2, right_upper_tail, right_upper_core, right_upper_inner, right_upper_centre,
        right_lower_tail, right_lower_core, right_lower_inner, right_lower_centre)

ax1.axline((0, left_pc[1]), slope=left_pc[0], color='black', lw=1.1, zorder=3)
ax2.axline((0, right_pc[1]), slope=right_pc[0], color='black', lw=1.1, zorder=3)

# titles and axis labels
fig.text(250.5 / W, 1 - 61.7 / H, 'PCA for a Bivariate Normal Distribution',
         ha='center', va='baseline', fontsize=15.5)
fig.text(847 / W, 1 - 26.7 / H, 'PCA for a Bivariate Normal Mixture',
         ha='center', va='baseline', fontsize=15.5)
fig.text(847 / W, 1 - 57 / H, 'with 2 States',
         ha='center', va='baseline', fontsize=15.5)

fig.text(250 / W, 1 - 468 / H, 'x', ha='center', va='baseline', fontsize=13)
fig.text(846.7 / W, 1 - 463 / H, 'x', ha='center', va='baseline', fontsize=13)
fig.text(17.5 / W, 1 - 259 / H, 'y', ha='center', va='center', rotation=90, fontsize=13)
fig.text(614 / W, 1 - 253 / H, 'y', ha='center', va='center', rotation=90, fontsize=13)

fig.savefig('out.png', dpi=100)
